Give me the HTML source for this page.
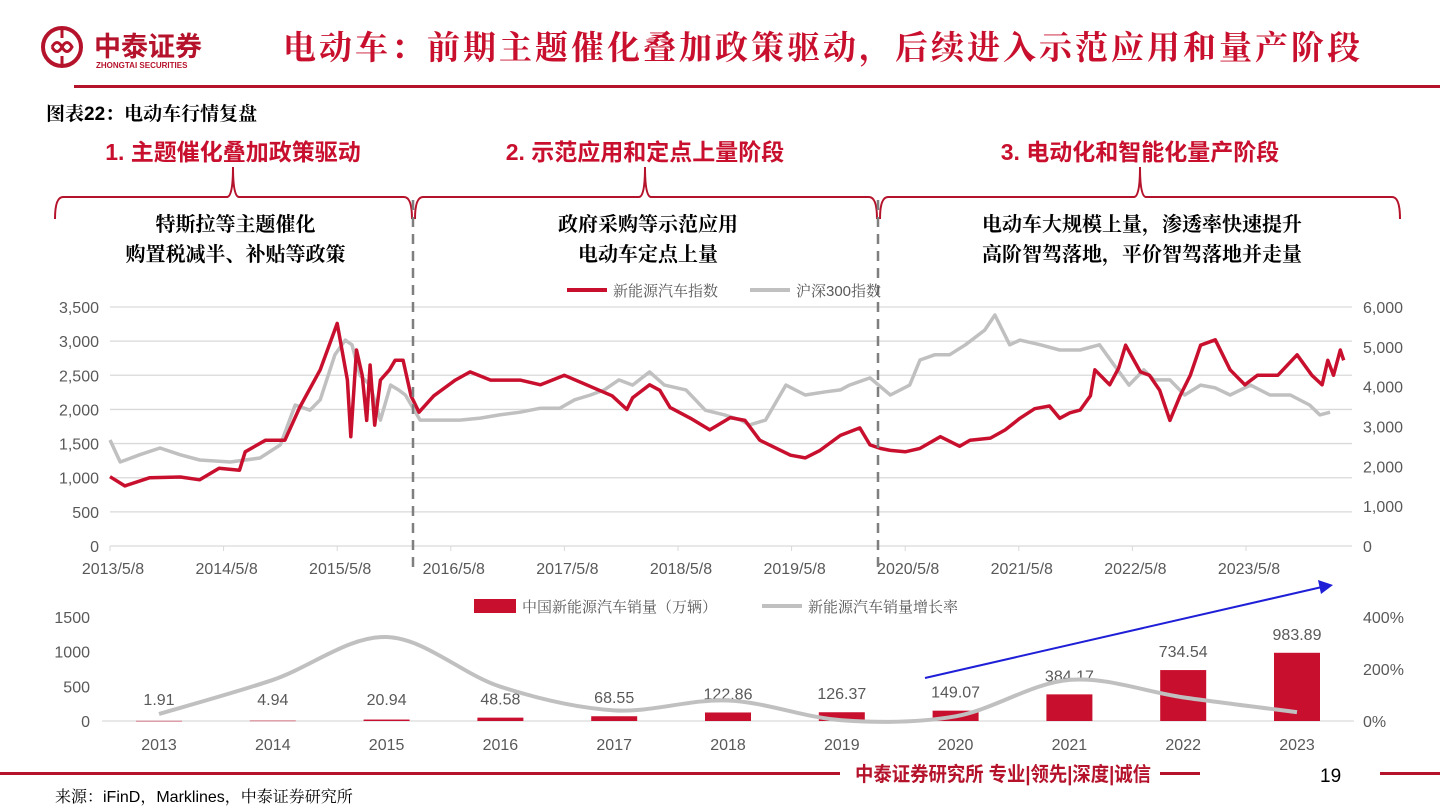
<!DOCTYPE html>
<html><head><meta charset="utf-8"><style>
body{margin:0;background:#fff;}
svg{display:block;font-family:"Liberation Sans","Noto Sans CJK SC",sans-serif;}
.cj{font-family:"Liberation Sans","Noto Serif CJK SC","Noto Sans CJK SC",serif;}
</style></head><body>
<svg id="s" width="1440" height="810" viewBox="0 0 1440 810" xmlns="http://www.w3.org/2000/svg">
<g>
<circle cx="62" cy="47" r="19" fill="none" stroke="#b5122b" stroke-width="4"/>
<path d="M52 47 q5 -9 10 0 q5 9 10 0 q-5 -9 -10 0 q-5 9 -10 0 M62 30 v8 M62 56 v8" fill="none" stroke="#b5122b" stroke-width="3"/>
<text x="94" y="56" font-size="27" font-weight="bold" fill="#b5122b" font-family="Liberation Sans,'Noto Sans CJK SC',sans-serif">中泰证券</text>
<text x="96" y="68" font-size="8" font-weight="bold" fill="#b5122b">ZHONGTAI SECURITIES</text>
</g>
<text class="cj" x="283" y="59" textLength="1077" lengthAdjust="spacing" font-size="33" font-weight="bold" fill="#c8102e">电动车：前期主题催化叠加政策驱动，后续进入示范应用和量产阶段</text>
<rect x="74" y="85" width="1366" height="3" fill="#b5122b"/>
<text class="cj" x="46" y="120" font-size="19" font-weight="bold" fill="#000">图表22：电动车行情复盘</text>
<g id="phases"></g>
<g id="topc"></g>
<g id="botc"></g>
<g>
<rect x="0" y="772" width="840" height="3" fill="#b5122b"/>
<text x="855" y="781" font-size="20" textLength="296" lengthAdjust="spacingAndGlyphs" font-weight="bold" fill="#b5122b" font-family="Liberation Sans,'Noto Sans CJK SC',sans-serif">中泰证券研究所 专业|领先|深度|诚信</text>
<rect x="1160" y="772" width="40" height="3" fill="#b5122b"/>
<text x="1320" y="782" font-size="19" fill="#000">19</text>
<rect x="1380" y="772" width="60" height="3" fill="#b5122b"/>
<text class="cj" x="55" y="802" font-size="16" fill="#000">来源：iFinD，Marklines，中泰证券研究所</text>
</g>
</svg>
<script>
// ---- top chart data ----
const dateTicks=["2013/5/8","2014/5/8","2015/5/8","2016/5/8","2017/5/8","2018/5/8","2019/5/8","2020/5/8","2021/5/8","2022/5/8","2023/5/8"];
const leftTicks=[0,500,1000,1500,2000,2500,3000,3500];
const rightTicks=[0,1000,2000,3000,4000,5000,6000];
const nevT=[0,.13,.35,.62,.79,.96,1.14,1.19,1.37,1.54,1.67,1.85,2.0,2.09,2.12,2.17,2.22,2.26,2.29,2.33,2.38,2.46,2.51,2.58,2.65,2.72,2.85,3.04,3.17,3.35,3.52,3.61,3.79,4.0,4.42,4.55,4.6,4.75,4.84,4.93,5.11,5.28,5.46,5.59,5.72,5.99,6.12,6.25,6.43,6.6,6.69,6.78,6.87,7.0,7.13,7.31,7.48,7.57,7.75,7.88,8.01,8.14,8.27,8.36,8.45,8.54,8.63,8.67,8.8,8.88,8.94,9.0,9.07,9.15,9.24,9.33,9.42,9.51,9.6,9.73,9.86,9.99,10.1,10.28,10.45,10.58,10.67,10.72,10.77,10.83,10.86];
const nevV=[1015,880,1000,1010,970,1140,1110,1380,1550,1550,2030,2580,3260,2430,1600,2870,2500,1840,2650,1770,2430,2580,2720,2720,2200,1960,2200,2430,2550,2430,2430,2430,2360,2500,2200,2000,2170,2360,2280,2030,1870,1700,1880,1840,1550,1330,1290,1400,1620,1730,1480,1430,1400,1380,1430,1600,1460,1550,1580,1700,1870,2010,2050,1870,1950,1990,2200,2580,2360,2610,2940,2760,2550,2500,2280,1840,2200,2500,2940,3020,2580,2360,2500,2500,2800,2500,2360,2720,2500,2870,2720,2360,2000,2580,2430];
const hsT=[0,.09,.26,.44,.62,.79,1.06,1.32,1.5,1.63,1.76,1.85,1.98,2.07,2.13,2.2,2.29,2.38,2.47,2.54,2.6,2.73,2.9,3.08,3.26,3.43,3.61,3.79,3.96,4.09,4.23,4.35,4.48,4.6,4.75,4.88,5.07,5.24,5.41,5.55,5.63,5.77,5.95,6.12,6.3,6.43,6.51,6.69,6.87,7.04,7.13,7.26,7.39,7.53,7.7,7.79,7.92,8.01,8.19,8.36,8.54,8.71,8.84,8.97,9.1,9.19,9.33,9.46,9.6,9.73,9.86,10.04,10.21,10.39,10.56,10.65,10.74];
const hsV=[2660,2110,2290,2460,2290,2160,2110,2210,2540,3540,3410,3670,4800,5170,5050,4290,4040,3160,4040,3920,3790,3160,3160,3160,3210,3290,3360,3460,3460,3670,3790,3920,4170,4040,4370,4040,3920,3410,3290,3160,3040,3160,4040,3790,3870,3920,4040,4220,3790,4040,4670,4800,4800,5050,5420,5800,5050,5170,5050,4920,4920,5050,4540,4040,4420,4170,4170,3790,4040,3970,3790,4040,3790,3790,3540,3290,3360,3670];
// ---- bottom chart data ----
const years=["2013","2014","2015","2016","2017","2018","2019","2020","2021","2022","2023"];
const sales=[1.91,4.94,20.94,48.58,68.55,122.86,126.37,149.07,384.17,734.54,983.89];
const growth=[27,158,323,132,41,79,3,18,158,91,34];
const salesTicks=[0,500,1000,1500];
const growthTicks=["0%","200%","400%"];
const growthTickVals=[0,200,400];

const NS="http://www.w3.org/2000/svg";
function el(tag,attrs,parent,txt){const e=document.createElementNS(NS,tag);for(const k in attrs)e.setAttribute(k,attrs[k]);if(txt!=null)e.textContent=txt;parent.appendChild(e);return e;}
const RED="#c8102e",GR="#c0c0c0",TXT="#595959";

// phases
const ph=document.getElementById('phases');
const phases=[{x0:55,x1:412,xm:233,t:"1. 主题催化叠加政策驱动",l:["特斯拉等主题催化","购置税减半、补贴等政策"]},
{x0:415,x1:877,xm:645,t:"2. 示范应用和定点上量阶段",l:["政府采购等示范应用","电动车定点上量"]},
{x0:880,x1:1400,xm:1140,t:"3. 电动化和智能化量产阶段",l:["电动车大规模上量，渗透率快速提升","高阶智驾落地，平价智驾落地并走量"]}];
phases.forEach((p,i)=>{
 const g=el('g',{},ph);
 
 
 el('path',{d:`M${p.x0} 219 Q${p.x0} 197 ${p.x0+8} 197 L${p.xm-6} 197 Q${p.xm} 197 ${p.xm} 167 Q${p.xm} 197 ${p.xm+6} 197 L${p.x1-8} 197 Q${p.x1} 197 ${p.x1} 219`,fill:'none',stroke:'#b5122b','stroke-width':2},g);
 el('text',{x:p.xm,y:160,'text-anchor':'middle','font-size':23,'font-weight':'bold',fill:RED,'font-family':"Liberation Sans,'Noto Sans CJK SC',sans-serif"},g,p.t);
 p.l.forEach((s,j)=>el('text',{x:(p.x0+p.x1)/2+2,y:231+j*30,'text-anchor':'middle','font-size':20,'font-weight':'bold',fill:'#000',class:'cj'},g,s));
});

// top chart
const topG=document.getElementById('topc');
const X0=110,PX_YR=113.6,Y0=546,YTOP=307;
const xT=t=>X0+t*PX_YR, yL=v=>Y0-v/3500*(Y0-YTOP), yR=v=>Y0-v/6000*(Y0-YTOP);
leftTicks.forEach(v=>{const y=yL(v);
 const ln=el('line',{x1:110,x2:1352,y1:y,y2:y,stroke:'#d9d9d9','stroke-width':1.3},topG);
 
 
 const t=el('text',{x:99,y:y+6,'text-anchor':'end','font-size':16,fill:TXT},topG,v.toLocaleString('en-US'));
 
 });
rightTicks.forEach(v=>{const t=el('text',{x:1363,y:yR(v)+6,'font-size':16,fill:TXT},topG,v.toLocaleString('en-US'));
 
 });
dateTicks.forEach((d,i)=>{const x=xT(i);
 el('line',{x1:x,x2:x,y1:Y0,y2:Y0+5,stroke:'#d9d9d9'},topG);
 const t=el('text',{x:x+3,y:Y0+28,'text-anchor':'middle','font-size':16,fill:TXT},topG,d);
 
 });
function poly(T,V,f,c,name){const d=T.map((t,i)=>xT(t).toFixed(1)+','+f(V[i]).toFixed(1)).join(' ');
 const p=el('polyline',{points:d,fill:'none',stroke:c,'stroke-width':3.5,'stroke-linejoin':'round'},topG);
 
 }
poly(hsT,hsV,yR,GR,'csi300-line');
poly(nevT,nevV,yL,RED,'nev-index-line');
[413,878].forEach(x=>{const l=el('line',{x1:x,x2:x,y1:200,y2:568,stroke:'#7f7f7f','stroke-width':2.5,'stroke-dasharray':'10 7'},topG);
 
 });
// legend
const lg=el('g',{},topG);


el('line',{x1:567,x2:607,y1:290,y2:290,stroke:RED,'stroke-width':4},lg);
el('text',{x:613,y:296,'font-size':15,fill:TXT,class:'cj'},lg,'新能源汽车指数');
el('line',{x1:750,x2:790,y1:290,y2:290,stroke:GR,'stroke-width':4},lg);
el('text',{x:796,y:296,'font-size':15,fill:TXT,class:'cj'},lg,'沪深300指数');

// bottom chart
const botG=document.getElementById('botc');
const BY0=721,BYT=617,BX0=159,BSTEP=113.8;
const bx=i=>BX0+i*BSTEP, byL=v=>BY0-v/1500*(BY0-BYT), byR=v=>BY0-v/400*(BY0-BYT);
salesTicks.forEach(v=>{const t=el('text',{x:90,y:byL(v)+6,'text-anchor':'end','font-size':16,fill:TXT},botG,String(v));
 
 });
growthTicks.forEach((s,i)=>{const t=el('text',{x:1363,y:byR(growthTickVals[i])+6,'font-size':16,fill:TXT},botG,s);
 
 });
el('line',{x1:102,x2:1354,y1:BY0,y2:BY0,stroke:'#d9d9d9','stroke-width':1.3},botG);
years.forEach((y,i)=>{const x=bx(i),h=BY0-byL(sales[i]);
 const r=el('rect',{x:x-23,y:BY0-h,width:46,height:Math.max(h,0.5),fill:RED},botG);
 
 
 const lbl=el('text',{x:x,y:Math.min(BY0-h-13,705),'text-anchor':'middle','font-size':16,fill:TXT},botG,sales[i].toFixed(2));
 
 
 const t=el('text',{x:x,y:BY0+29,'text-anchor':'middle','font-size':16,fill:TXT},botG,y);
 
 });
// smooth growth line (catmull-rom)
const P=growth.map((g,i)=>[bx(i),byR(g)]);
let d=`M${P[0][0]},${P[0][1]}`;
for(let i=0;i<P.length-1;i++){const p0=P[i-1]||P[i],p1=P[i],p2=P[i+1],p3=P[i+2]||P[i+1];
 d+=` C${p1[0]+(p2[0]-p0[0])/6},${p1[1]+(p2[1]-p0[1])/6} ${p2[0]-(p3[0]-p1[0])/6},${p2[1]-(p3[1]-p1[1])/6} ${p2[0]},${p2[1]}`;}
const gl=el('path',{d:d,fill:'none',stroke:GR,'stroke-width':4},botG);


const bl=el('g',{},botG);


el('rect',{x:474,y:599,width:42,height:14,fill:RED},bl);
el('text',{x:522,y:612,'font-size':15,fill:TXT,class:'cj'},bl,'中国新能源汽车销量（万辆）');
el('line',{x1:762,x2:802,y1:606,y2:606,stroke:GR,'stroke-width':4},bl);
el('text',{x:808,y:612,'font-size':15,fill:TXT,class:'cj'},bl,'新能源汽车销量增长率');
const ar=el('g',{},botG);


el('line',{x1:925,y1:678,x2:1322,y2:587,stroke:'#1f1fd8','stroke-width':2},ar);
el('path',{d:'M1333 585 L1318 580 L1321 594 Z',fill:'#1f1fd8'},ar);
</script>
</body></html>
